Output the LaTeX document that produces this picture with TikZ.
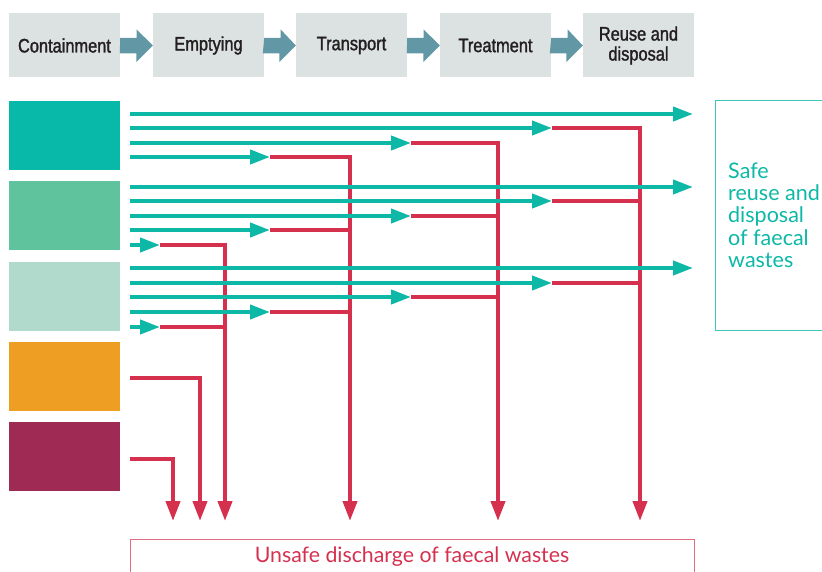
\documentclass[tikz,border=0pt]{standalone}
\usepackage{fontspec}
\setmainfont{Lato}
\newfontfamily\hdfont[FakeStretch=0.84,FakeBold=1.5]{Liberation Sans}
\usetikzlibrary{arrows.meta}
\definecolor{hdfill}{HTML}{DCE1E1}
\definecolor{hdarrow}{HTML}{6298A5}
\definecolor{hdtext}{HTML}{231F20}
\definecolor{tealc}{HTML}{0DB8A7}
\definecolor{redc}{HTML}{D6304F}
\definecolor{cA}{HTML}{08B8A8}
\definecolor{cB}{HTML}{5FC49E}
\definecolor{cC}{HTML}{B1D9CC}
\definecolor{cD}{HTML}{EE9E22}
\definecolor{cE}{HTML}{9F2B54}
\tikzset{
  hdbox/.style={fill=hdfill, minimum width=111pt, minimum height=64pt, inner sep=0pt,
    font=\hdfont\fontsize{19.5}{20}\selectfont, text=hdtext, align=center},
  srcbox/.style={minimum width=111pt, minimum height=69pt, inner sep=0pt},
  tealline/.style={draw=tealc, line width=4pt},
  redline/.style={draw=redc, line width=4pt, line join=miter},
  tarrow/.style={-{Triangle[length=20pt,width=14pt]}},
  outbox/.style={line width=1pt}
}
\begin{document}
\begin{tikzpicture}[x=1pt,y=-1pt]
\useasboundingbox (0,0) rectangle (822,572);
% header
\node[hdbox] (h1) at (64.5,45.5) {Containment};
\node[hdbox] (h2) at (208.5,45.5) {Emptying};
\node[hdbox] (h3) at (351.5,45.5) {Transport};
\node[hdbox] (h4) at (495.5,45.5) {Treatment};
\node[hdbox] (h5) at (638.5,45.5) {Reuse and\\disposal};
\foreach \a/\b in {h1/h2,h2/h3,h3/h4,h4/h5}{
  \fill[hdarrow] (\a.east) ++(0,-7.5) -- ++(16.5,0) -- ++(0,-8.5) -- (\b.west) -- ++(-16.5,16.5) -- ++(0,-8.5) -- ++(-16.5,0) -- cycle;
}
% source boxes
\node[srcbox, fill=cA] (c1) at (64.5,135.5) {};
\node[srcbox, fill=cB] (c2) at (64.5,215.5) {};
\node[srcbox, fill=cC] (c3) at (64.5,296.5) {};
\node[srcbox, fill=cD] (c4) at (64.5,376.5) {};
\node[srcbox, fill=cE] (c5) at (64.5,456.5) {};
% outcome boxes
\draw[draw=tealc!80, outbox] (715,101) rectangle (830,330);
\node[anchor=west, align=left, text=tealc, font=\fontsize{21.5}{22.3}\selectfont, inner sep=0pt] (safe) at (728,215) {Safe\\reuse and\\disposal\\of faecal\\wastes};
\draw[draw=redc!70, outbox] (130,539) rectangle (694,585);
\node[text=redc, font=\fontsize{21.3}{22}\selectfont, inner sep=0pt] (unsafe) at (412,557) {Unsafe discharge of faecal wastes};
% red vertical collectors
\coordinate (vA) at (640,521);
\coordinate (vB) at (498,521);
\coordinate (vC) at (350,521);
\coordinate (vD) at (225,521);
\coordinate (vE) at (200,521);
\coordinate (vF) at (173,521);
\coordinate (rA) at (552,128);
\coordinate (rB) at (411,143);
\coordinate (rC) at (270,157);
\coordinate (rD) at (160,245);
\coordinate (rE) at (130,378);
\coordinate (rF) at (130,459);
\draw[redline, tarrow] (rA) -| (vA);
\draw[redline, tarrow] (rB) -| (vB);
\draw[redline, tarrow] (rC) -| (vC);
\draw[redline, tarrow] (rD) -| (vD);
\draw[redline, tarrow] (rE) -| (vE);
\draw[redline, tarrow] (rF) -| (vF);
% red horizontal joins
\foreach \y in {201,283}{\coordinate (ja) at (552,\y); \coordinate (jb) at (640,\y); \draw[redline] (ja) -- (jb);}
\foreach \y in {216,297}{\coordinate (ja) at (411,\y); \coordinate (jb) at (498,\y); \draw[redline] (ja) -- (jb);}
\foreach \y in {230,312}{\coordinate (ja) at (270,\y); \coordinate (jb) at (350,\y); \draw[redline] (ja) -- (jb);}
\foreach \y in {327}{\coordinate (ja) at (160,\y); \coordinate (jb) at (225,\y); \draw[redline] (ja) -- (jb);}
% teal flows
\foreach \y/\t in {114/693,187/693,268/693,128/552,201/552,283/552,143/411,216/411,297/411,157/270,230/270,312/270,245/160,327/160}{
  \coordinate (ts) at (130,\y); \coordinate (te) at (\t,\y);
  \draw[tealline, tarrow, draw=tealc] (ts) -- (te);
}
\end{tikzpicture}
\end{document}
